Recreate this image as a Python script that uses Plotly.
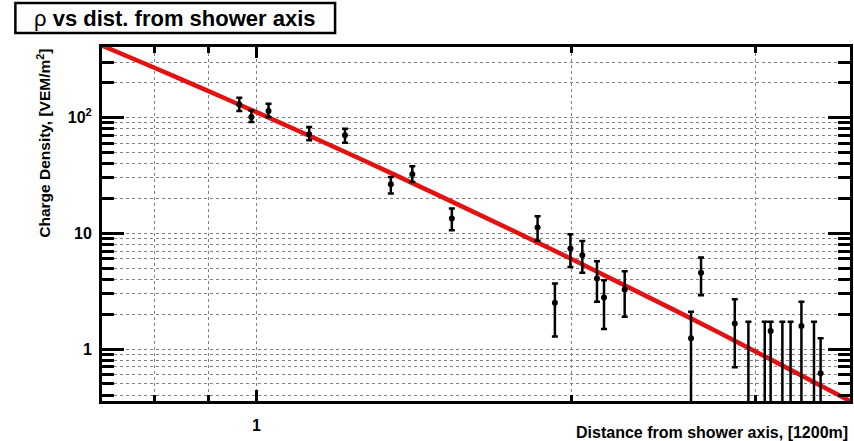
import math
import plotly.graph_objects as go

# Charge density per detector vs. core distance (units of 1200 m)
dist = [0.963, 0.989, 1.027, 1.123, 1.215, 1.344, 1.409, 1.537, 1.856, 1.928,
        1.995, 2.048, 2.115, 2.148, 2.248, 2.601, 2.659, 2.864, 3.099, 3.316, 3.459]
rho = [129.4, 100.6, 113.3, 71.4, 70.0, 26.5, 32.3, 13.4, 11.2, 2.51,
       7.38, 6.46, 4.07, 2.79, 3.27, 1.24, 4.55, 1.665, 1.43, 1.58, 0.617]
rho_err_up = [18.5, 14.3, 18.0, 11.1, 9.9, 4.1, 5.5, 2.9, 2.8, 1.17,
              2.42, 2.12, 1.67, 1.14, 1.43, 0.86, 1.62, 1.02, 0.29, 0.98, 0.62]
rho_err_down = [16.1, 9.5, 12.7, 8.0, 9.5, 4.5, 4.6, 2.8, 2.6, 1.23,
                2.26, 1.91, 1.51, 1.30, 1.37, 2.0, 1.63, 0.97, 2.0, 2.0, 2.0]

# Detectors with no measurable signal: only the upper error is shown
zero_dist = [2.951, 3.059, 3.180, 3.238, 3.409]
zero_rho = [0.1, 0.1, 0.1, 0.1, 0.1]
zero_err_up = [1.62, 1.62, 1.62, 1.62, 1.62]
zero_err_down = [1.0, 1.0, 1.0, 1.0, 1.0]

# Lateral distribution fit curve
fit_dist = [0.712, 0.8, 0.9, 1.0, 1.25, 1.5, 2.0, 2.5, 3.0, 3.69]
fit_rho = [416.6, 266.7, 168.5, 110.9, 44.8, 20.8, 5.99, 2.20, 0.949, 0.356]

x_range = [0.712, 3.69]
y_range = [0.356, 405.0]
x_major = [1]
x_minor = [0.8, 0.9, 2, 3]
y_major = [1, 10, 100]
y_major_text = ["1", "10", "10<sup>2</sup>"]
y_minor = [m * d for d in (0.1, 1, 10, 100) for m in range(2, 10)]

FONT = "Liberation Sans"
GRID = "#808080"

fig = go.Figure()

fig.add_trace(go.Scatter(
    x=fit_dist, y=fit_rho, mode="lines",
    line=dict(color="rgb(226,18,18)", width=4.5, shape="spline"),
    hoverinfo="skip", showlegend=False,
))

fig.add_trace(go.Scatter(
    x=zero_dist, y=zero_rho, mode="markers",
    marker=dict(color="black", size=6),
    error_y=dict(type="data", symmetric=False, array=zero_err_up,
                 arrayminus=zero_err_down, color="black", thickness=2.5, width=3),
    showlegend=False,
))

fig.add_trace(go.Scatter(
    x=dist, y=rho, mode="markers",
    marker=dict(color="black", size=6),
    error_y=dict(type="data", symmetric=False, array=rho_err_up,
                 arrayminus=rho_err_down, color="black", thickness=2.5, width=3),
    showlegend=False,
))

fig.update_xaxes(
    type="log", range=[math.log10(x_range[0]), math.log10(x_range[1])],
    tickmode="array", tickvals=x_major, ticktext=["1"],
    ticks="inside", ticklen=11, tickwidth=3, tickcolor="black",
    showline=True, linewidth=3, linecolor="black", mirror="allticks",
    showgrid=True, gridcolor=GRID, griddash="dot", gridwidth=1,
    minor=dict(tickmode="array", tickvals=x_minor, ticks="inside", ticklen=6,
               tickwidth=3, tickcolor="black", showgrid=True, gridcolor=GRID,
               griddash="dot", gridwidth=1),
    tickfont=dict(family=FONT, size=16, color="black", weight="bold"),
    ticklabelstandoff=8,
    zeroline=False,
)
fig.update_yaxes(
    type="log", range=[math.log10(y_range[0]), math.log10(y_range[1])],
    tickmode="array", tickvals=y_major, ticktext=y_major_text,
    ticks="inside", ticklen=22, tickwidth=3, tickcolor="black",
    showline=True, linewidth=3, linecolor="black", mirror="allticks",
    showgrid=True, gridcolor=GRID, griddash="dot", gridwidth=1,
    minor=dict(tickmode="array", tickvals=y_minor, ticks="inside", ticklen=12,
               tickwidth=3, tickcolor="black", showgrid=True, gridcolor=GRID,
               griddash="dot", gridwidth=1),
    tickfont=dict(family=FONT, size=16, color="black", weight="bold"),
    ticklabelstandoff=4,
    zeroline=False,
)

# Title box
fig.add_shape(type="rect", xref="paper", yref="paper",
              x0=-0.1158, x1=0.3116, y0=1.0395, y1=1.1243,
              line=dict(color="black", width=2.5), fillcolor="white")
fig.add_annotation(
    xref="paper", yref="paper", x=0.0979, y=1.0819, showarrow=False,
    text="ρ <b>vs dist. from shower axis</b>",
    font=dict(family=FONT, size=22, color="black"),
    xanchor="center", yanchor="middle",
)

# Axis titles
fig.add_annotation(
    xref="paper", yref="paper", x=1.0, y=-0.0876, showarrow=False,
    text="Distance from shower axis, [1200m]",
    font=dict(family=FONT, size=16, color="black", weight="bold"),
    xanchor="right", yanchor="middle",
)
fig.add_annotation(
    xref="paper", yref="paper", x=-0.0786, y=1.0, showarrow=False,
    text="Charge Density, [VEM/m<sup>2</sup>]", textangle=-90,
    font=dict(family=FONT, size=15.5, color="black", weight="bold"),
    xanchor="center", yanchor="top",
)

fig.update_layout(
    width=854, height=441,
    margin=dict(l=102, r=1, t=47, b=40),
    paper_bgcolor="white", plot_bgcolor="white",
    showlegend=False,
)

fig.write_html("out.html")
